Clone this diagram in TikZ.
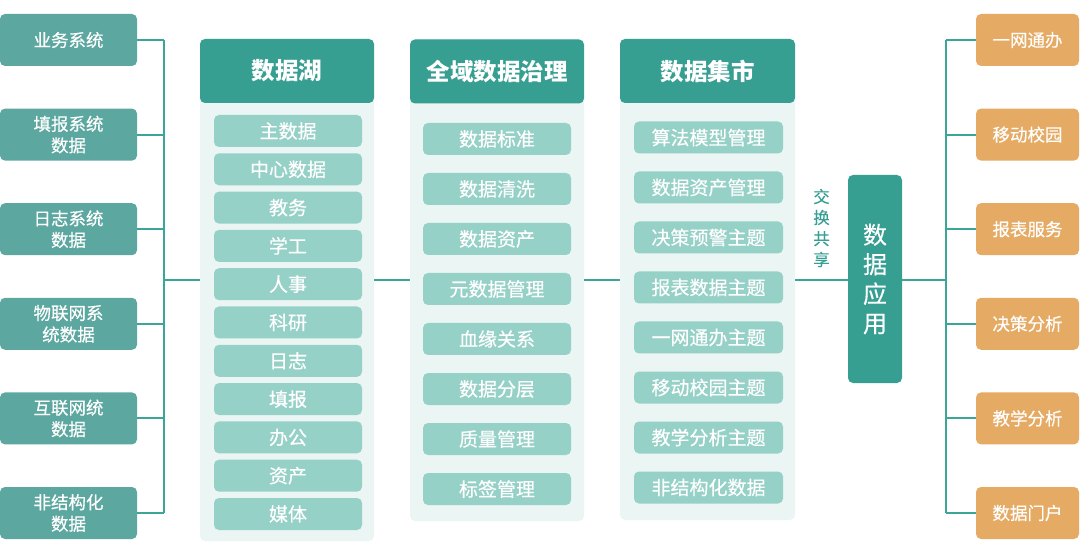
\documentclass[tikz,border=0pt]{standalone}
\usepackage{fontspec}
\setmainfont{Noto Sans CJK SC}
\newfontfamily\cjk[FakeBold=0.35]{Noto Sans CJK SC}
\newfontfamily\cjkb{Noto Sans CJK SC}
\definecolor{srcbox}{HTML}{5CA7A0}
\definecolor{hdr}{HTML}{379F92}
\definecolor{itm}{HTML}{96D1C8}
\definecolor{pnl}{HTML}{EBF5F3}
\definecolor{appbox}{HTML}{E5AA63}
\definecolor{lnk}{HTML}{3BA597}
\begin{document}
\begin{tikzpicture}[x=1pt,y=-1pt,
  srcnode/.style={fill=srcbox,rounded corners=5pt,minimum width=137pt,minimum height=52pt,inner sep=0pt,text=white,font=\cjk\fontsize{17.5}{21.5}\selectfont,align=center},
  appnode/.style={fill=appbox,rounded corners=5pt,minimum width=103pt,minimum height=52pt,inner sep=0pt,text=white,font=\cjk\fontsize{17.5}{21.5}\selectfont,align=center},
  hdrnode/.style={fill=hdr,rounded corners=5pt,minimum height=64pt,inner sep=0pt,text=white,font=\cjkb\bfseries\fontsize{23.5}{28}\selectfont},
  itemnode/.style={fill=itm,rounded corners=5pt,minimum height=32pt,inner sep=0pt,text=white,font=\cjk\fontsize{19}{22}\selectfont},
  panelbox/.style={fill=pnl,rounded corners=5pt,inner sep=0pt},
  conn/.style={draw=lnk,line width=2pt}]
\useasboundingbox (0,0) rectangle (1080,556);
% panels
\node[panelbox,minimum width=174pt,minimum height=502pt] (lake) at (287,290) {};
\node[panelbox,minimum width=174pt,minimum height=482pt] (gov) at (497,280) {};
\node[panelbox,minimum width=175pt,minimum height=481pt] (mkt) at (707.5,279.5) {};
% headers
\node[hdrnode,minimum width=174pt] (h1) at (287,71) {数据湖};
\node[hdrnode,minimum width=174pt] (h2) at (497,71.5) {全域数据治理};
\node[hdrnode,minimum width=175pt] (h3) at (707.5,71) {数据集市};
% lake items
\foreach \t [count=\i from 0] in {主数据,中心数据,教务,学工,人事,科研,日志,填报,办公,资产,媒体}{
  \node[itemnode,minimum width=148pt] (lk\i) at (288,131+38.3*\i) {\t};
}
% governance items
\foreach \t [count=\i from 0] in {数据标准,数据清洗,数据资产,元数据管理,血缘关系,数据分层,质量管理,标签管理}{
  \node[itemnode,minimum width=148pt] (gv\i) at (497,139+50*\i) {\t};
}
% market items
\foreach \t [count=\i from 0] in {算法模型管理,数据资产管理,决策预警主题,报表数据主题,一网通办主题,移动校园主题,教学分析主题,非结构化数据}{
  \node[itemnode,minimum width=149pt] (mk\i) at (708.5,137.5+50*\i) {\t};
}
% sources
\node[srcnode] (s1) at (68.5,40) {业务系统};
\node[srcnode] (s2) at (68.5,134.6) {填报系统\\数据};
\node[srcnode] (s3) at (68.5,229.2) {日志系统\\数据};
\node[srcnode] (s4) at (68.5,323.8) {物联网系\\统数据};
\node[srcnode] (s5) at (68.5,418.4) {互联网统\\数据};
\node[srcnode] (s6) at (68.5,513) {非结构化\\数据};
% apps
\node[appnode] (a1) at (1027.5,40) {一网通办};
\node[appnode] (a2) at (1027.5,134.6) {移动校园};
\node[appnode] (a3) at (1027.5,229.2) {报表服务};
\node[appnode] (a4) at (1027.5,323.8) {决策分析};
\node[appnode] (a5) at (1027.5,418.4) {教学分析};
\node[appnode] (a6) at (1027.5,513) {数据门户};
% data application
\node[fill=hdr,rounded corners=5pt,minimum width=54pt,minimum height=208pt,inner sep=0pt,text=white,align=center,font=\cjk\fontsize{24}{29.5}\selectfont] (app) at (875,279) {数\\据\\应\\用};
\node[text=hdr,align=center,inner sep=0pt,font=\cjk\fontsize{16.5}{21}\selectfont] (xchg) at (821.5,228) {交\\换\\共\\享};
% bus coordinates
\coordinate (lbus) at (164,280);
\coordinate (rbus) at (946,280);
% left connectors
\foreach \i in {1,...,6}{ \draw[conn] (s\i.east) -- (s\i.east -| lbus); }
\draw[conn] (s1.east -| lbus) -- (s6.east -| lbus);
\draw[conn] (lbus) -- (lbus -| lake.west);
\draw[conn] (lbus -| lake.east) -- (lbus -| gov.west);
\draw[conn] (lbus -| gov.east) -- (lbus -| mkt.west);
\draw[conn] (lbus -| mkt.east) -- (lbus -| app.west);
\draw[conn] (lbus -| app.east) -- (rbus);
% right connectors
\foreach \i in {1,...,6}{ \draw[conn] (a\i.west) -- (a\i.west -| rbus); }
\draw[conn] (a1.west -| rbus) -- (a6.west -| rbus);
\end{tikzpicture}
\end{document}
